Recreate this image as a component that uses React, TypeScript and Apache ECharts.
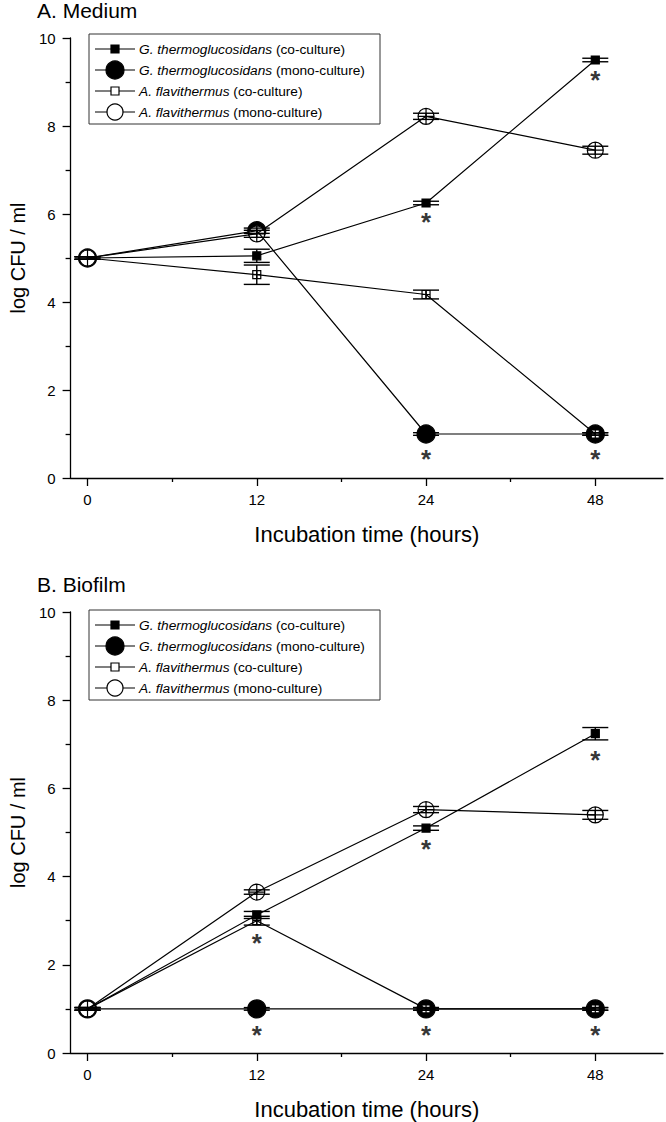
import React, { useEffect, useRef } from "react";
import * as echarts from "echarts";

const FONT = "'Liberation Sans', Arial, Helvetica, sans-serif";

// ---------- categories / ticks ----------
const HOURS = ["0", "12", "24", "48"];
const X_IDX = [0, 1, 2, 3];
const X_MINOR = [0.5, 1.5, 2.5];

// ---------- legend names ----------
const SPECIES = ["G. thermoglucosidans", "G. thermoglucosidans", "A. flavithermus", "A. flavithermus"];
const CULTURE = ["(co-culture)", "(mono-culture)", "(co-culture)", "(mono-culture)"];

// ---------- Panel A: Medium ----------
const A_GT_CO = [5.0, 5.05, 6.25, 9.5];
const A_GT_CO_ERR = [0.03, 0.15, 0.04, 0.04];
const A_GT_MONO = [5.0, 5.62, 1.0, 1.0];
const A_GT_MONO_ERR = [0.03, 0.06, 0.03, 0.03];
const A_AF_CO = [5.0, 4.62, 4.17, 1.0];
const A_AF_CO_ERR = [0.03, 0.22, 0.1, 0.03];
const A_AF_MONO = [5.0, 5.55, 8.22, 7.45];
const A_AF_MONO_ERR = [0.03, 0.08, 0.07, 0.09];
const A_STARS = [[2, 5.95], [3, 9.18], [2, 0.56], [3, 0.56]];

// ---------- Panel B: Biofilm ----------
const B_GT_CO = [1.0, 3.13, 5.1, 7.24];
const B_GT_CO_ERR = [0.03, 0.08, 0.05, 0.14];
const B_GT_MONO = [1.0, 1.0, 1.0, 1.0];
const B_GT_MONO_ERR = [0.03, 0.03, 0.03, 0.03];
const B_AF_CO = [1.0, 3.0, 1.0, 1.0];
const B_AF_CO_ERR = [0.03, 0.1, 0.03, 0.03];
const B_AF_MONO = [1.0, 3.65, 5.52, 5.4];
const B_AF_MONO_ERR = [0.03, 0.05, 0.07, 0.1];
const B_STARS = [[1, 2.63], [1, 0.55], [2, 4.76], [2, 0.55], [3, 6.78], [3, 0.55]];

// marker look for the four series: GT co, GT mono, AF co, AF mono
const CIRCLE_PLUS = "path://M0,-10A10,10 0 1,1 0,10A10,10 0 1,1 0,-10ZM-10,0L10,0M0,-10L0,10";
const SQUARE_PLUS = "path://M-5,-5L5,-5L5,5L-5,5ZM-5,0L5,0M0,-5L0,5";
const MARKERS = [
  { legend: "rect", plot: "rect", size: 8, fill: "#000" },
  { legend: "circle", plot: "circle", size: 18, fill: "#000" },
  { legend: "rect", plot: SQUARE_PLUS, size: 8, fill: "#fff" },
  { legend: "circle", plot: CIRCLE_PLUS, size: 16, fill: "#fff" },
];
const DRAW_ORDER = [1, 2, 0, 3];

type Panel = {
  title: string;
  means: number[][];
  errs: number[][];
  stars: number[][];
  grid: { left: number; top: number; width: number; height: number };
  legendTop: number;
  titleY: number;
};

const PANELS: Panel[] = [
  {
    title: "A. Medium",
    means: [A_GT_CO, A_GT_MONO, A_AF_CO, A_AF_MONO],
    errs: [A_GT_CO_ERR, A_GT_MONO_ERR, A_AF_CO_ERR, A_AF_MONO_ERR],
    stars: A_STARS,
    grid: { left: 67, top: 38, width: 596, height: 440 },
    legendTop: 34,
    titleY: 10,
  },
  {
    title: "B. Biofilm",
    means: [B_GT_CO, B_GT_MONO, B_AF_CO, B_AF_MONO],
    errs: [B_GT_CO_ERR, B_GT_MONO_ERR, B_AF_CO_ERR, B_AF_MONO_ERR],
    stars: B_STARS,
    grid: { left: 67, top: 612, width: 596, height: 441 },
    legendTop: 610,
    titleY: 584,
  },
];

function buildOption() {
  const grids: any[] = [];
  const xAxes: any[] = [];
  const yAxes: any[] = [];
  const series: any[] = [];
  const graphics: any[] = [];

  PANELS.forEach((p, g) => {
    grids.push({ ...p.grid, containLabel: false });
    const xMain = xAxes.length;
    xAxes.push({
      type: "value",
      gridIndex: g,
      min: -0.1,
      max: 3.4,
      position: "bottom",
      splitLine: { show: false },
      axisLine: { show: true, onZero: false, lineStyle: { color: "#000", width: 1.3 } },
      axisTick: { show: true, customValues: X_IDX, length: 8, lineStyle: { color: "#000", width: 1.3 } },
      axisLabel: {
        customValues: X_IDX,
        formatter: (v: number) => HOURS[Math.round(v)],
        fontSize: 15,
        color: "#000",
        margin: 14,
        fontFamily: FONT,
      },
      name: "Incubation time (hours)",
      nameLocation: "middle",
      nameGap: 45,
      nameTextStyle: { fontSize: 22, color: "#000", fontFamily: FONT },
    });
    xAxes.push({
      type: "value",
      gridIndex: g,
      min: -0.1,
      max: 3.4,
      position: "bottom",
      splitLine: { show: false },
      axisLine: { show: false, onZero: false },
      axisTick: { show: true, customValues: X_MINOR, length: 4, lineStyle: { color: "#000", width: 1.3 } },
      axisLabel: { show: false },
    });
    const yIdx = yAxes.length;
    yAxes.push({
      type: "value",
      gridIndex: g,
      min: 0,
      max: 10,
      interval: 2,
      splitLine: { show: false },
      axisLine: { show: true, onZero: false, lineStyle: { color: "#000", width: 1.3 } },
      axisTick: { show: true, length: 8, lineStyle: { color: "#000", width: 1.3 } },
      minorTick: { show: true, splitNumber: 2, length: 5, lineStyle: { color: "#000", width: 1.3 } },
      minorSplitLine: { show: false },
      axisLabel: { fontSize: 15, color: "#000", margin: 15, fontFamily: FONT },
      name: "log CFU / ml",
      nameLocation: "middle",
      nameGap: 41,
      nameTextStyle: { fontSize: 20, color: "#000", fontFamily: FONT },
    });

    // markers
    DRAW_ORDER.forEach((k) => {
      const m = MARKERS[k];
      series.push({
        type: "scatter",
        xAxisIndex: xMain,
        yAxisIndex: yIdx,
        z: 2,
        symbol: m.plot,
        symbolSize: m.size,
        itemStyle: { color: m.fill, borderColor: "#000", borderWidth: 1.2, opacity: 1 },
        data: X_IDX.map((x, i) => [x, p.means[k][i]]),
        silent: true,
      });
    });
    // connecting lines
    [0, 1, 2, 3].forEach((k) => {
      series.push({
        type: "line",
        xAxisIndex: xMain,
        yAxisIndex: yIdx,
        z: 3,
        showSymbol: false,
        symbol: "none",
        lineStyle: { color: "#000", width: 1.2 },
        data: X_IDX.map((x, i) => [x, p.means[k][i]]),
        silent: true,
      });
    });
    // error bars
    [0, 1, 2, 3].forEach((k) => {
      series.push({
        type: "custom",
        xAxisIndex: xMain,
        yAxisIndex: yIdx,
        z: 4,
        silent: true,
        data: X_IDX.map((x, i) => [x, p.means[k][i] - p.errs[k][i], p.means[k][i] + p.errs[k][i]]),
        renderItem: (params: any, api: any) => {
          const x = api.value(0);
          const lo = api.coord([x, api.value(1)]);
          const hi = api.coord([x, api.value(2)]);
          const hw = 13;
          const st = { stroke: "#000", lineWidth: 1.4 };
          return {
            type: "group",
            children: [
              { type: "line", shape: { x1: lo[0], y1: lo[1], x2: hi[0], y2: hi[1] }, style: st },
              { type: "line", shape: { x1: lo[0] - hw, y1: lo[1], x2: lo[0] + hw, y2: lo[1] }, style: st },
              { type: "line", shape: { x1: hi[0] - hw, y1: hi[1], x2: hi[0] + hw, y2: hi[1] }, style: st },
            ],
          };
        },
      });
    });
    // significance asterisks
    series.push({
      type: "scatter",
      xAxisIndex: xMain,
      yAxisIndex: yIdx,
      z: 5,
      symbolSize: 1,
      itemStyle: { color: "rgba(0,0,0,0)" },
      data: p.stars,
      silent: true,
      label: {
        show: true,
        position: "inside",
        formatter: () => "*",
        fontSize: 26,
        fontWeight: "bold",
        color: "#000",
        fontFamily: FONT,
        offset: [0, 6],
      },
    });

    // panel title
    graphics.push({
      type: "text",
      x: 37,
      y: p.titleY,
      style: { text: p.title, fontSize: 21, fill: "#000", fontFamily: FONT, verticalAlign: "middle", align: "left" },
    });

    // legend (box + entries)
    const lt = p.legendTop;
    graphics.push({
      type: "rect",
      shape: { x: 89, y: lt, width: 291, height: 90 },
      style: { fill: "#fff", stroke: "#333", lineWidth: 1 },
      z: 10,
    });
    [0, 1, 2, 3].forEach((k) => {
      const yy = lt + 15 + k * 21;
      const m = MARKERS[k];
      graphics.push({
        type: "line",
        shape: { x1: 95, y1: yy, x2: 135, y2: yy },
        style: { stroke: "#000", lineWidth: 1.2 },
        z: 11,
      });
      if (m.legend === "rect") {
        graphics.push({
          type: "rect",
          shape: { x: 115 - m.size / 2, y: yy - m.size / 2, width: m.size, height: m.size },
          style: { fill: m.fill, stroke: "#000", lineWidth: 1.2 },
          z: 12,
        });
      } else {
        graphics.push({
          type: "circle",
          shape: { cx: 115, cy: yy, r: m.size / 2 },
          style: { fill: m.fill, stroke: "#000", lineWidth: 1.2 },
          z: 12,
        });
      }
      graphics.push({
        type: "text",
        x: 139,
        y: yy,
        z: 12,
        style: {
          text: `{i|${SPECIES[k]}} ${CULTURE[k]}`,
          rich: { i: { fontStyle: "italic", fontSize: 13.7, fontFamily: FONT, fill: "#000" } },
          fontSize: 13.7,
          fontFamily: FONT,
          fill: "#000",
          verticalAlign: "middle",
          align: "left",
        },
      });
    });
  });

  return {
    animation: false,
    backgroundColor: "#fff",
    grid: grids,
    xAxis: xAxes,
    yAxis: yAxes,
    series,
    graphic: graphics,
  };
}

export default function App() {
  const ref = useRef<HTMLDivElement>(null);
  useEffect(() => {
    if (!ref.current) return;
    const chart = echarts.init(ref.current, null, { renderer: "svg" });
    chart.setOption(buildOption() as any);
    return () => chart.dispose();
  }, []);
  return (
    <div
      ref={ref}
      style={{ position: "fixed", left: 0, top: 0, width: 666, height: 1122, background: "#fff" }}
    />
  );
}
